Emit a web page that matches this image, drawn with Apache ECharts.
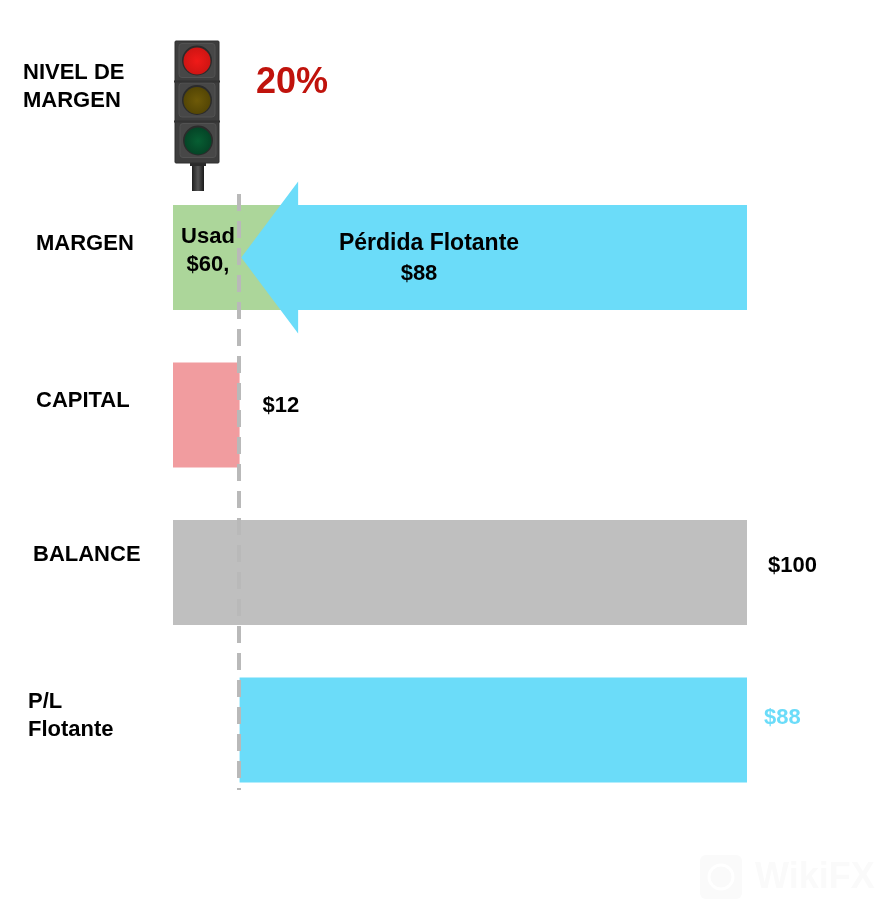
<!DOCTYPE html>
<html>
<head>
<meta charset="utf-8">
<style>html,body{margin:0;padding:0;background:#fff}#chart{width:886px;height:918px}</style>
<script src="https://cdn.jsdelivr.net/npm/echarts@6/dist/echarts.min.js"></script>
</head>
<body>
<div id="chart"></div>
<script>
// Data
const categories = ['MARGEN', 'CAPITAL', 'BALANCE', 'P/L\nFlotante'];
const usedMarginVisible = [19, null, null, null];
const capitalValues = [null, 11.6, null, null];
const balanceValues = [null, null, 100, null];
const floatingBase = [null, null, null, 11.6];
const floatingValues = [null, null, null, 88.4];
const arrowTip = 11.9, arrowShoulder = 21.8, arrowTail = 100;
const equityLine = 11.45;
const capitalLabel = '$12', balanceLabel = '$100', floatingLabel = '$88';
const usedLabel = 'Usad\n$60,';
const lossTitle = 'Pérdida Flotante', lossValue = '$88';
const levelTitle = 'NIVEL DE\nMARGEN', levelValue = '20%';

const FONT = '"Liberation Sans", Arial, sans-serif';
const chart = echarts.init(document.getElementById('chart'), null, {renderer: 'canvas'});

function housing(y, h) {
  return {type: 'rect', shape: {x: 175, y: y, width: 44, height: h, r: 1},
    style: {fill: '#3d3d3d', stroke: '#2f2f2f', lineWidth: 1}};
}
function lamp(cx, cy, inner, outer) {
  return [
    {type: 'rect', shape: {x: cx - 18, y: cy - 17, width: 36, height: 34, r: 3},
      style: {fill: '#474747', stroke: '#525252', lineWidth: 1}},
    {type: 'circle', shape: {cx: cx, cy: cy, r: 15}, style: {fill: '#2b2b2b'}},
    {type: 'circle', shape: {cx: cx, cy: cy + 0.5, r: 13.5},
      style: {fill: {type: 'radial', x: 0.5, y: 0.5, r: 0.6,
        colorStops: [{offset: 0, color: inner}, {offset: 1, color: outer}]}}}
  ];
}
function catLabel(i, left, lineHeight) {
  const textStyle = {align: 'left', padding: [0, 0, 0, left]};
  if (lineHeight) textStyle.lineHeight = lineHeight;
  return {value: categories[i], textStyle: textStyle};
}

const option = {
  animation: false,
  backgroundColor: '#ffffff',
  grid: {left: 173, top: 178.75, width: 574, height: 630, containLabel: false, outerBoundsMode: 'none'},
  xAxis: {type: 'value', min: 0, max: 100, show: false},
  yAxis: {
    type: 'category', inverse: true,
    data: [
      catLabel(0, 8),
      catLabel(1, 8),
      catLabel(2, 5, 35),
      catLabel(3, 0)
    ],
    axisLine: {show: false}, axisTick: {show: false},
    axisLabel: {color: '#000', fontFamily: FONT, fontWeight: 'bold', fontSize: 22,
      lineHeight: 28, align: 'left', margin: 145,
      // the trailing empty line lifts each label above its bar's centre, as in the picture
      formatter: function (v) { return v + '\n'; }}
  },
  series: [
    {name: 'Usado', type: 'bar', barWidth: 105, barGap: '-100%', data: usedMarginVisible,
      itemStyle: {color: '#acd69a'}},
    {name: 'Capital', type: 'bar', barWidth: 105, barGap: '-100%', data: capitalValues,
      itemStyle: {color: '#f19c9f'},
      label: {show: true, position: 'right', distance: 23, offset: [0, -9],
        formatter: capitalLabel, color: '#000', fontFamily: FONT, fontWeight: 'bold', fontSize: 22},
      markLine: {
        silent: true, symbol: 'none', z: 20, label: {show: false},
        lineStyle: {color: '#b9b9b9', width: 4, type: [17, 10], opacity: 1},
        data: [[{xAxis: equityLine, y: 194}, {xAxis: equityLine, y: 790}]]
      }},
    {name: 'Balance', type: 'bar', barWidth: 105, barGap: '-100%', data: balanceValues,
      itemStyle: {color: '#bfbfbf'},
      label: {show: true, position: 'right', distance: 21, offset: [0, -7],
        formatter: balanceLabel, color: '#000', fontFamily: FONT, fontWeight: 'bold', fontSize: 22}},
    {name: 'base', type: 'bar', stack: 'pl', barWidth: 105, data: floatingBase,
      itemStyle: {color: 'transparent'}},
    {name: 'P/L Flotante', type: 'bar', stack: 'pl', barWidth: 105, data: floatingValues,
      itemStyle: {color: '#6bdcf9'},
      label: {show: true, position: 'right', distance: 17, offset: [0, -12],
        formatter: floatingLabel, color: '#6bdcf9', fontFamily: FONT, fontWeight: 'bold', fontSize: 22}},
    {name: 'Pérdida Flotante', type: 'custom', coordinateSystem: 'cartesian2d', z: 5,
      data: [[0]],
      renderItem: function (params, api) {
        const cy = api.coord([0, 0])[1];
        const tip = api.coord([arrowTip, 0])[0];
        const sh = api.coord([arrowShoulder, 0])[0];
        const tail = api.coord([arrowTail, 0])[0];
        const hb = 52.5, hh = 76;
        const labelStyle = {fill: '#000', font: 'bold 22px ' + FONT, align: 'center', verticalAlign: 'middle'};
        return {type: 'group', children: [
          {type: 'polygon', shape: {points: [
            [tip, cy], [sh, cy - hh], [sh, cy - hb], [tail, cy - hb],
            [tail, cy + hb], [sh, cy + hb], [sh, cy + hh]]},
            style: {fill: '#6bdcf9'}},
          {type: 'text', style: Object.assign({x: 429, y: cy - 14, text: lossTitle}, labelStyle, {font: 'bold 23px ' + FONT})},
          {type: 'text', style: Object.assign({x: 419, y: cy + 16, text: lossValue}, labelStyle)},
          {type: 'text', style: Object.assign({x: 208, y: cy - 7, text: usedLabel, lineHeight: 28}, labelStyle), z2: 30}
        ]};
      }
    }
  ],
  graphic: {elements: [
    {type: 'text', left: 23, top: 59, style: {text: levelTitle, fill: '#000', font: 'bold 22px ' + FONT, lineHeight: 28}},
    {type: 'text', left: 256, top: 65, style: {text: levelValue, fill: '#c0130c', font: 'bold 36px ' + FONT}},
    {type: 'group', children: [].concat(
      [{type: 'rect', shape: {x: 192, y: 163, width: 12, height: 28},
        style: {fill: {type: 'linear', x: 0, y: 0, x2: 1, y2: 0, colorStops: [
          {offset: 0, color: '#1f1f1f'}, {offset: 0.5, color: '#555'}, {offset: 1, color: '#1a1a1a'}]}}},
       {type: 'rect', shape: {x: 190, y: 161, width: 16, height: 5}, style: {fill: '#2a2a2a'}},
       housing(41, 122)],
      lamp(197, 60.5, '#f01a18', '#c81412'),
      lamp(197, 100, '#6e5a08', '#4f4204'),
      lamp(198, 140.5, '#075f33', '#043f24'),
      [{type: 'rect', shape: {x: 174, y: 80.5, width: 46, height: 2}, style: {fill: '#333333'}},
       {type: 'rect', shape: {x: 174, y: 120.5, width: 46, height: 2}, style: {fill: '#333333'}}]
    )},
    {type: 'rect', shape: {x: 700, y: 855, width: 42, height: 44, r: 6}, style: {fill: '#fafafa'}},
    {type: 'circle', shape: {cx: 721, cy: 877, r: 12}, style: {fill: 'none', stroke: '#ffffff', lineWidth: 3}},
    {type: 'text', left: 755, top: 860, style: {text: 'WikiFX', fill: '#fafafa', font: 'bold 36px ' + FONT}}
  ]}
};
chart.setOption(option);
</script>
</body>
</html>
